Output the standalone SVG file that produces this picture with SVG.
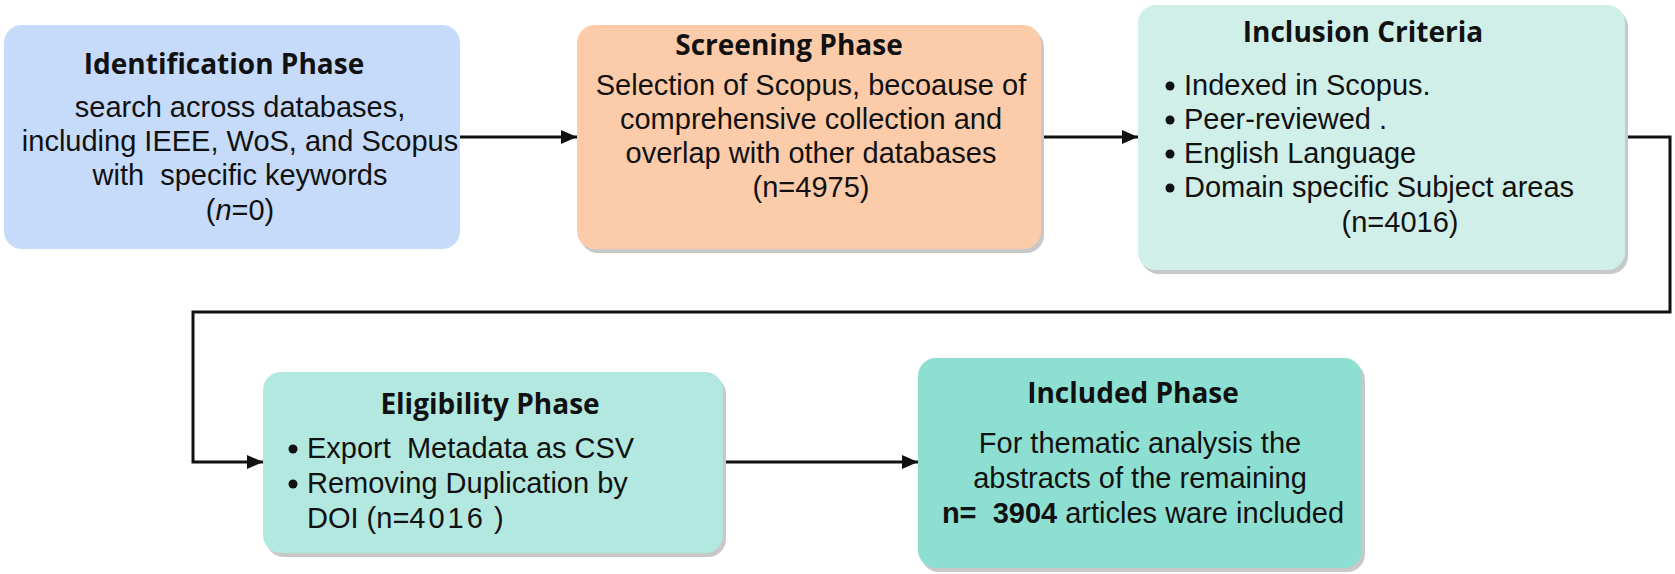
<svg xmlns="http://www.w3.org/2000/svg" width="1675" height="574" viewBox="0 0 1675 574">
  <style>
    .title { font-family: "Open Sans", "Noto Sans", sans-serif; font-weight: 700; font-size: 28px; fill: #111; text-anchor: middle; }
    .body { font-family: "Liberation Sans", Arial, sans-serif; font-size: 29px; fill: #111; white-space: pre; }
    .c { text-anchor: middle; }
    .shadow { fill: #c8c8c8; }
    .conn { fill: none; stroke: #111; stroke-width: 3; }
    .dot { fill: #111; }
  </style>
  <defs>
    <marker id="arrow" markerUnits="userSpaceOnUse" markerWidth="17" markerHeight="15" refX="16" refY="7" orient="auto">
      <path d="M0,0 L16,7 L0,14 z" fill="#111"/>
    </marker>
  </defs>

  <g id="connectors">
    <line class="conn" x1="460" y1="137" x2="577" y2="137" marker-end="url(#arrow)"/>
    <line class="conn" x1="1041" y1="137" x2="1138" y2="137" marker-end="url(#arrow)"/>
    <polyline class="conn" points="1625,137 1670,137 1670,312 193,312 193,462 263,462" marker-end="url(#arrow)"/>
    <line class="conn" x1="723" y1="462" x2="918" y2="462" marker-end="url(#arrow)"/>
  </g>

  <g id="identification">
    <rect x="4" y="25" width="456" height="224" rx="18" fill="#c6dbfa"/>
    <text class="title" x="224" y="74">Identification Phase</text>
    <text class="body c" x="240" y="117">search across databases,</text>
    <text class="body c" x="240" y="151">including IEEE, WoS, and Scopus</text>
    <text class="body c" x="240" y="185">with  specific keywords</text>
    <text class="body c" x="240" y="220">(<tspan font-style="italic">n</tspan>=0)</text>
  </g>

  <g id="screening">
    <rect class="shadow" x="580" y="29" width="464" height="224" rx="18"/>
    <rect x="577" y="25" width="464" height="224" rx="18" fill="#fccba9"/>
    <text class="title" x="789" y="55">Screening Phase</text>
    <text class="body c" x="811" y="95">Selection of Scopus, becoause of</text>
    <text class="body c" x="811" y="129">comprehensive collection and</text>
    <text class="body c" x="811" y="163">overlap with other databases</text>
    <text class="body c" x="811" y="197">(n=4975)</text>
  </g>

  <g id="inclusion">
    <rect class="shadow" x="1141" y="9" width="487" height="265" rx="18"/>
    <rect x="1138" y="5" width="487" height="265" rx="18" fill="#d0efe9"/>
    <text class="title" x="1363" y="42">Inclusion Criteria</text>
    <circle class="dot" cx="1170" cy="86" r="4.5"/>
    <circle class="dot" cx="1170" cy="120" r="4.5"/>
    <circle class="dot" cx="1170" cy="154" r="4.5"/>
    <circle class="dot" cx="1170" cy="188" r="4.5"/>
    <text class="body" x="1184" y="95">Indexed in Scopus.</text>
    <text class="body" x="1184" y="129">Peer-reviewed .</text>
    <text class="body" x="1184" y="163">English Language</text>
    <text class="body" x="1184" y="197">Domain specific Subject areas</text>
    <text class="body c" x="1400" y="232">(n=4016)</text>
  </g>

  <g id="eligibility">
    <rect class="shadow" x="266" y="376" width="460" height="181" rx="18"/>
    <rect x="263" y="372" width="460" height="181" rx="18" fill="#b3e8e0"/>
    <text class="title" x="490" y="414">Eligibility Phase</text>
    <circle class="dot" cx="293" cy="449" r="4.5"/>
    <circle class="dot" cx="293" cy="484" r="4.5"/>
    <text class="body" x="307" y="458">Export  Metadata as CSV</text>
    <text class="body" x="307" y="493">Removing Duplication by</text>
    <text class="body" x="307" y="528">DOI (n=<tspan letter-spacing="3">4016</tspan> )</text>
  </g>

  <g id="included">
    <rect class="shadow" x="921" y="362" width="444" height="210" rx="18"/>
    <rect x="918" y="358" width="444" height="210" rx="18" fill="#8ddfd2"/>
    <text class="title" x="1133" y="403">Included Phase</text>
    <text class="body c" x="1140" y="453">For thematic analysis the</text>
    <text class="body c" x="1140" y="488">abstracts of the remaining</text>
    <text class="body c" x="1143" y="523"><tspan font-weight="700">n=  3904</tspan> articles ware included</text>
  </g>
</svg>
